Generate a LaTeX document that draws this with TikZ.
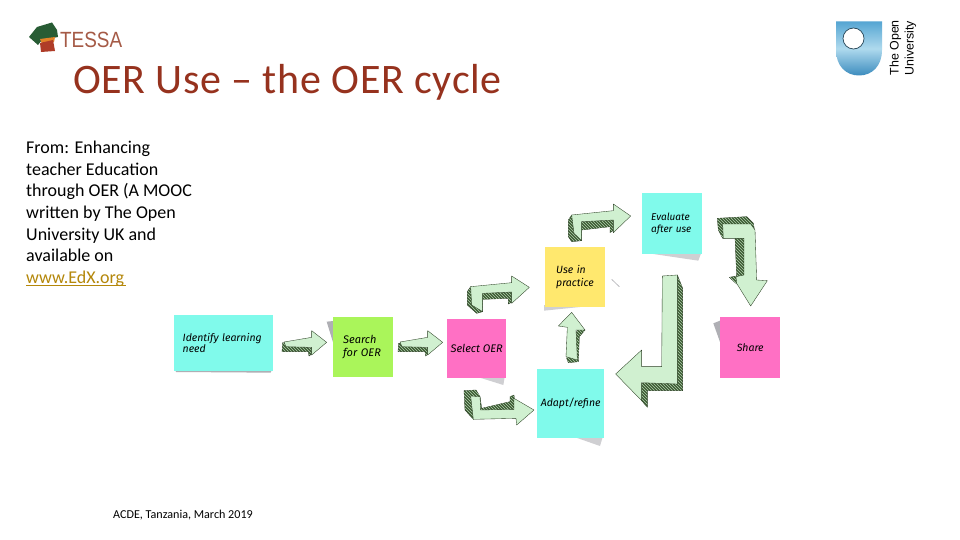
\documentclass[tikz,border=0pt]{standalone}
\usepackage{fontspec}
\setmainfont{Carlito}
\newfontfamily\notefont{Fira Sans}[ItalicFont=* Italic]
\newfontfamily\logofont{Liberation Sans}
\usetikzlibrary{shadings,patterns}
\definecolor{titlered}{RGB}{150,50,30}
\definecolor{linkgold}{RGB}{180,135,10}
\definecolor{notecyan}{RGB}{128,250,235}
\definecolor{notegreen}{RGB}{170,245,90}
\definecolor{notepink}{RGB}{255,112,196}
\definecolor{noteyellow}{RGB}{255,232,110}
\definecolor{arrowlight}{RGB}{208,240,208}
\definecolor{arrowdark}{RGB}{60,90,50}
\definecolor{shadowgrey}{RGB}{175,175,180}
\definecolor{tessagreen}{RGB}{40,92,52}
\definecolor{tessaorange}{RGB}{225,130,40}
\definecolor{tessared}{RGB}{175,60,40}
\definecolor{tessatext}{RGB}{165,90,70}
\definecolor{oublue}{RGB}{85,165,210}
\definecolor{oumid}{RGB}{175,218,238}
\definecolor{oudeep}{RGB}{60,140,190}
\tikzset{
  note/.style={inner sep=0pt,align=center,font=\notefont\itshape\fontsize{10.5}{12.5}\selectfont,text=black},
  arrowface/.style={fill=arrowlight,draw=arrowdark!70!black,line width=.35pt,line join=round},
  arrowside/.style={fill=arrowdark,draw=arrowdark!60!black,line width=.35pt,line join=round,postaction={pattern=north west lines,pattern color=arrowlight!80!arrowdark}},
  notesh/.style={fill=shadowgrey,draw=none},
  notesoft/.style={fill=shadowgrey!60!white,draw=none},
  zoomtwo/.style={shift={(440,180)},scale=1/3},
  zoomone/.style={shift={(160,300)},scale=1/3},
}
\begin{document}
\begin{tikzpicture}[x=1pt,y=-1pt]
\useasboundingbox (0,0) rectangle (960,540);
\fill[white] (0,0) rectangle (960,540);
% TESSA logo
\fill[tessagreen] (29,37) -- (37,27) -- (52,22.5) -- (57,30) -- (58,37) -- (53,38) -- (42,40) -- (38,45) -- cycle;
\fill[tessaorange] (40,39) -- (55,37) -- (54,42) -- (42,44) -- cycle;
\fill[tessared] (40,43) -- (53,40) -- (55,51) -- (41,52) -- cycle;
\node[inner sep=0pt,anchor=west,text=tessatext,xscale=.86] (tessa) at (60,39.5) {\logofont\fontsize{22}{22}\selectfont TESSA};
% Open University logo
\shade[top color=oublue,bottom color=oudeep,middle color=oumid]
  (836,21.5) -- (882,21.5) -- (882,50) .. controls (882,66) and (872,75.5) .. (859,75.5) .. controls (846,75.5) and (836,66) .. (836,50) -- cycle;
\fill[white,draw=black!60!oublue,line width=.7pt] (853.5,38.5) circle (10.5);
\node[rotate=90,inner sep=0pt,anchor=west,font=\logofont\fontsize{12.4}{12.4}\selectfont] (ou1) at (895.5,75.5) {The Open};
\node[rotate=90,inner sep=0pt,anchor=west,font=\logofont\fontsize{12.4}{12.4}\selectfont] (ou2) at (910.5,75.5) {University};
% Title and text
\node[inner sep=0pt,anchor=west,text=titlered,font=\fontsize{42}{42}\selectfont\addfontfeatures{LetterSpace=1.7}] (title) at (73,82) {OER Use -- the OER cycle};
\node[inner sep=0pt,anchor=north west,align=left,font=\fontsize{18}{21.6}\selectfont] (body) at (26,141)
 {From: Enhancing\\teacher Education\\through OER (A MOOC\\written by The Open\\University UK and\\available on\\\textcolor{linkgold}{\rlap{\rule[-2.5pt]{100pt}{1.2pt}}www.EdX.org}};
\node[inner sep=0pt,font=\fontsize{12.1}{12}\selectfont] (foot) at (183,515) {ACDE, Tanzania, March 2019};
% shadows
\begin{scope}[zoomone]
\path[notesh] (45,205) -- (336,208) -- (332,218) -- (48,216) -- cycle;
\path[notesh] (500,65) -- (530,62) -- (520,130) -- cycle;
\end{scope}
\begin{scope}[zoomtwo]
\path[notesoft] (640,222) -- (785,215) -- (775,242) -- cycle;
\path[notesoft] (312,375) -- (430,380) -- (312,392) -- cycle;
\path[notesoft] (110,590) -- (195,585) -- (190,615) -- cycle;
\path[notesoft] (400,770) -- (490,765) -- (480,798) -- cycle;
\path[notesh] (820,430) -- (850,418) -- (845,500) -- cycle;
\end{scope}
% notes
\node[note,fill=notecyan,minimum width=99pt,minimum height=56pt,anchor=north west,text width=82pt,align=left] (identify) at (174,315) {Identify learning\\[-1pt]need\\[3pt]};
\node[note,fill=notegreen,minimum width=60pt,minimum height=60pt,anchor=north west,text width=40pt,align=left,font=\notefont\itshape\fontsize{11}{12.5}\selectfont] (search) at (333,317) {Search\\for OER};
\node[note,fill=notepink,minimum width=59pt,minimum height=59pt,anchor=north west,font=\notefont\itshape\fontsize{11}{12.5}\selectfont] (select) at (447,319) {Select OER};
\node[note,fill=notecyan,minimum width=67pt,minimum height=69pt,anchor=north west] (adapt) at (537,369) {Adapt/refine};
\node[note,fill=noteyellow,minimum width=60pt,minimum height=60pt,anchor=north west,text width=38pt,align=left] (use) at (545,247) {Use in\\practice};
\node[note,fill=notecyan,minimum width=60pt,minimum height=61pt,anchor=north west,text width=42pt,align=left,font=\notefont\itshape\fontsize{10}{12.5}\selectfont] (evaluate) at (642,193) {Evaluate\\after use};
\node[note,fill=notepink,minimum width=60pt,minimum height=61pt,anchor=north west] (share) at (720,317) {Share};
% straight arrows
\begin{scope}[zoomone]
\filldraw[arrowside] (368,128) -- (366,155) -- (445,155) -- (447,168) -- (458,160) -- (458,145) -- (380,130) -- cycle;
\filldraw[arrowface] (372,126) -- (455,112) -- (455,92) -- (500,127) -- (455,165) -- (455,142) -- (378,140) -- cycle;
\filldraw[arrowside] (716,130) -- (714,155) -- (795,155) -- (797,168) -- (806,160) -- (806,145) -- (730,130) -- cycle;
\filldraw[arrowface] (720,126) -- (803,112) -- (803,92) -- (848,127) -- (803,165) -- (803,142) -- (726,140) -- cycle;
\end{scope}
\begin{scope}[zoomtwo]
% select -> use
\filldraw[arrowside] (92,320) -- (82,335) -- (82,375) -- (110,400) -- (128,395) -- (128,358) -- (205,355) -- (205,372) -- (218,365) -- (218,335) -- (128,340) -- cycle;
\filldraw[arrowface] (92,320) -- (215,308) -- (215,288) -- (268,322) -- (215,370) -- (215,336) -- (128,340) -- (128,395) -- (95,375) -- cycle;
% use -> evaluate
\filldraw[arrowside] (395,105) -- (385,120) -- (385,170) -- (395,185) -- (425,182) -- (425,150) -- (510,140) -- (510,158) -- (525,148) -- (525,118) -- (425,125) -- cycle;
\filldraw[arrowface] (395,105) -- (520,92) -- (520,72) -- (572,108) -- (520,158) -- (520,120) -- (425,125) -- (425,182) -- (402,160) -- cycle;
% evaluate -> share
\filldraw[arrowside] (832,115) -- (920,110) -- (940,130) -- (945,160) -- (848,175) -- (835,150) -- cycle;
\filldraw[arrowside] (885,170) -- (915,170) -- (918,300) -- (890,312) -- (868,292) -- (890,288) -- cycle;
\filldraw[arrowface] (848,132) -- (932,132) -- (945,150) -- (950,300) -- (982,302) -- (932,378) -- (890,310) -- (888,290) -- (912,285) -- (912,175) -- (850,175) -- cycle;
% evaluate -> adapt
\filldraw[arrowside] (712,285) -- (728,325) -- (728,632) -- (622,632) -- (622,682) -- (605,662) -- (605,610) -- (700,600) -- cycle;
\filldraw[arrowface] (667,288) -- (712,285) -- (712,612) -- (605,608) -- (605,662) -- (527,582) -- (605,510) -- (605,560) -- (665,560) -- cycle;
% adapt -> use
\filldraw[arrowside] (435,450) -- (412,450) -- (380,535) -- (385,548) -- (415,545) -- (418,470) -- cycle;
\filldraw[arrowface] (355,438) -- (395,397) -- (435,450) -- (408,450) -- (412,540) -- (378,530) -- (382,442) -- cycle;
% select -> adapt
\filldraw[arrowside] (72,632) -- (108,630) -- (120,650) -- (125,685) -- (210,665) -- (210,650) -- (222,645) -- (225,690) -- (125,695) -- (100,718) -- (75,690) -- cycle;
\filldraw[arrowface] (92,648) -- (120,650) -- (122,690) -- (222,688) -- (222,655) -- (282,690) -- (230,735) -- (228,715) -- (100,718) -- cycle;
% stray mark
\draw[shadowgrey,line width=.6pt] (515,298) -- (538,320);
\end{scope}
\end{tikzpicture}
\end{document}
